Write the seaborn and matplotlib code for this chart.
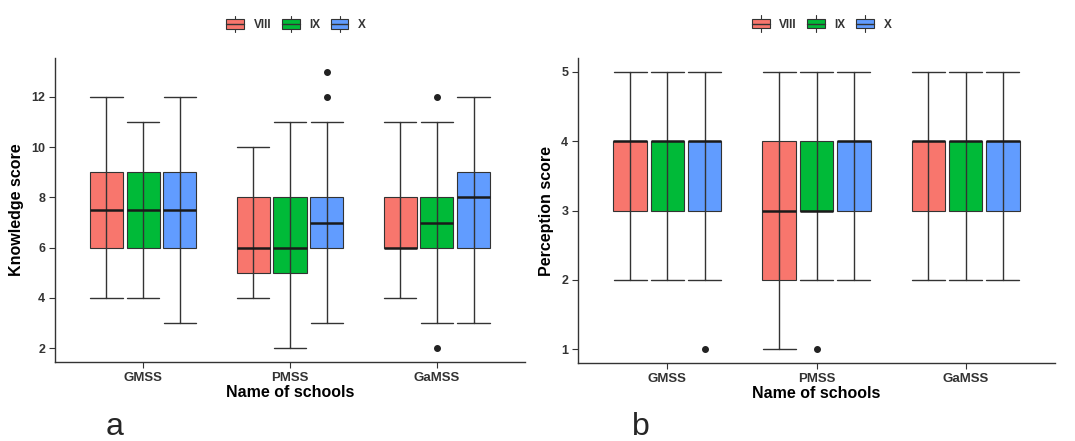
import numpy as np
import pandas as pd
import matplotlib
matplotlib.use("Agg")
import matplotlib.pyplot as plt
import seaborn as sns
from matplotlib.legend_handler import HandlerBase
from matplotlib.patches import Rectangle, Patch
from matplotlib.lines import Line2D

# ---------------- data ----------------
schools = ["GMSS", "PMSS", "GaMSS"]
grades = ["VIII", "IX", "X"]
colors = ["#F8766D", "#00BA38", "#619CFF"]

# Knowledge score: rows = schools, cols = grades
know_lo = [[4, 4, 3], [4, 2, 3], [4, 3, 3]]
know_q1 = [[6, 6, 6], [5, 5, 6], [6, 6, 6]]
know_med = [[7.5, 7.5, 7.5], [6, 6, 7], [6, 7, 8]]
know_q3 = [[9, 9, 9], [8, 8, 8], [8, 8, 9]]
know_hi = [[12, 11, 12], [10, 11, 11], [11, 11, 12]]
know_out = [[[], [], []], [[], [], [12, 13]], [[], [2, 12], []]]

# Perception score
perc_lo = [[2, 2, 2], [1, 2, 2], [2, 2, 2]]
perc_q1 = [[3, 3, 3], [2, 3, 3], [3, 3, 3]]
perc_med = [[4, 4, 4], [3, 3, 4], [4, 4, 4]]
perc_q3 = [[4, 4, 4], [4, 4, 4], [4, 4, 4]]
perc_hi = [[5, 5, 5], [5, 5, 5], [5, 5, 5]]
perc_out = [[[], [], [1]], [[], [1], []], [[], [], []]]


def sample(lo, q1, med, q3, hi, out):
    low_out = [v for v in out if v < q1]
    up_out = [v for v in out if v > q3]
    lower = low_out + [lo] * (3 - len(low_out)) + [q1] * 5
    upper = [q3] * 5 + [hi] * (3 - len(up_out)) + up_out
    return lower + [med] + upper


def build(lo, q1, med, q3, hi, out, with_out=True):
    rows = []
    for i, s in enumerate(schools):
        for j, g in enumerate(grades):
            o = out[i][j] if with_out else []
            for v in sample(lo[i][j], q1[i][j], med[i][j], q3[i][j], hi[i][j], o):
                rows.append((s, g, v))
    return pd.DataFrame(rows, columns=["school", "grade", "score"])


know_df = build(know_lo, know_q1, know_med, know_q3, know_hi, know_out)
know_core = build(know_lo, know_q1, know_med, know_q3, know_hi, know_out, False)
perc_df = build(perc_lo, perc_q1, perc_med, perc_q3, perc_hi, perc_out)
perc_core = build(perc_lo, perc_q1, perc_med, perc_q3, perc_hi, perc_out, False)

# ---------------- figure ----------------
sns.set_theme(style="white")
plt.rcParams["font.family"] = ["Liberation Sans", "DejaVu Sans"]

W, H = 1075, 441
fig = plt.figure(figsize=(W / 100, H / 100), dpi=100)
axL = fig.add_axes([55 / W, 1 - 362 / H, 470 / W, 304 / H])
axR = fig.add_axes([578 / W, 1 - 363 / H, 477 / W, 305 / H])

dark = "#333333"


class BoxKey(HandlerBase):
    def create_artists(self, legend, orig_handle, xd, yd, w, h, fontsize, trans):
        x0, y0 = -xd, -yd
        fc = orig_handle.get_facecolor()
        art = [
            Rectangle((x0, y0 + h * 0.2), w, h * 0.6, facecolor=fc,
                      edgecolor=dark, lw=0.8, transform=trans),
            Line2D([x0, x0 + w], [y0 + h / 2] * 2, color=dark, lw=1.0, transform=trans),
            Line2D([x0 + w / 2] * 2, [y0 - h * 0.05, y0 + h * 0.2], color=dark, lw=0.8,
                   transform=trans),
            Line2D([x0 + w / 2] * 2, [y0 + h * 0.8, y0 + h * 1.05], color=dark, lw=0.8,
                   transform=trans),
        ]
        return art


def panel(ax, df, core, ylab, ylim, yticks, leg_x):
    sns.boxplot(data=df, x="school", y="score", hue="grade", order=schools,
                hue_order=grades, palette=colors, saturation=1, width=0.75,
                gap=0.1, linecolor=dark, linewidth=0.8, showcaps=False,
                whiskerprops={"linewidth": 0},
                medianprops={"linewidth": 1.8, "color": "#1a1a1a"},
                flierprops={"marker": "o", "markerfacecolor": "#222222",
                            "markeredgecolor": "#222222", "markersize": 4},
                legend=False, ax=ax)
    sns.pointplot(data=core, x="school", y="score", hue="grade", order=schools,
                  hue_order=grades, palette=[dark] * 3, dodge=0.5,
                  errorbar=("pi", 100), capsize=0.22, marker="", linestyle="none",
                  err_kws={"linewidth": 1.0, "color": dark}, legend=False, ax=ax)
    ax.set_xlim(-0.6, 2.6)
    ax.set_ylim(*ylim)
    ax.set_yticks(yticks)
    ax.set_yticklabels([str(t) for t in yticks])
    for s in ["top", "right"]:
        ax.spines[s].set_visible(False)
    for s in ["left", "bottom"]:
        ax.spines[s].set_color(dark)
        ax.spines[s].set_linewidth(1.0)
    ax.tick_params(axis="both", which="major", bottom=True, left=True, direction="out",
                   length=4, width=0.8, color=dark, pad=3)
    ax.tick_params(axis="x", labelsize=9.5)
    ax.tick_params(axis="y", labelsize=9)
    for lab in ax.get_xticklabels() + ax.get_yticklabels():
        lab.set_fontweight("bold")
        lab.set_color(dark)
    ax.set_xlabel("Name of schools", fontsize=11.5, fontweight="bold", labelpad=1,
                  color="black")
    ax.set_ylabel(ylab, fontsize=11.5, fontweight="bold", labelpad=5, color="black")
    handles = [Patch(facecolor=c) for c in colors]
    leg = ax.legend(handles, grades, handler_map={Patch: BoxKey()}, loc="center",
                    bbox_to_anchor=(leg_x, 1.112), ncol=3, frameon=False,
                    prop={"weight": "bold", "size": 8.5}, handlelength=1.5,
                    handleheight=1.6, handletextpad=0.8, columnspacing=0.9)
    for t in leg.get_texts():
        t.set_color(dark)


panel(axL, know_df, know_core, "Knowledge score", (1.45, 13.55), [2, 4, 6, 8, 10, 12], 0.513)
panel(axR, perc_df, perc_core, "Perception score", (0.8, 5.2), [1, 2, 3, 4, 5], 0.511)

fig.text(115 / W, 1 - 435 / H, "a", fontsize=23, ha="center", va="baseline")
fig.text(641 / W, 1 - 435 / H, "b", fontsize=23, ha="center", va="baseline")

fig.savefig("out.png", dpi=100)
